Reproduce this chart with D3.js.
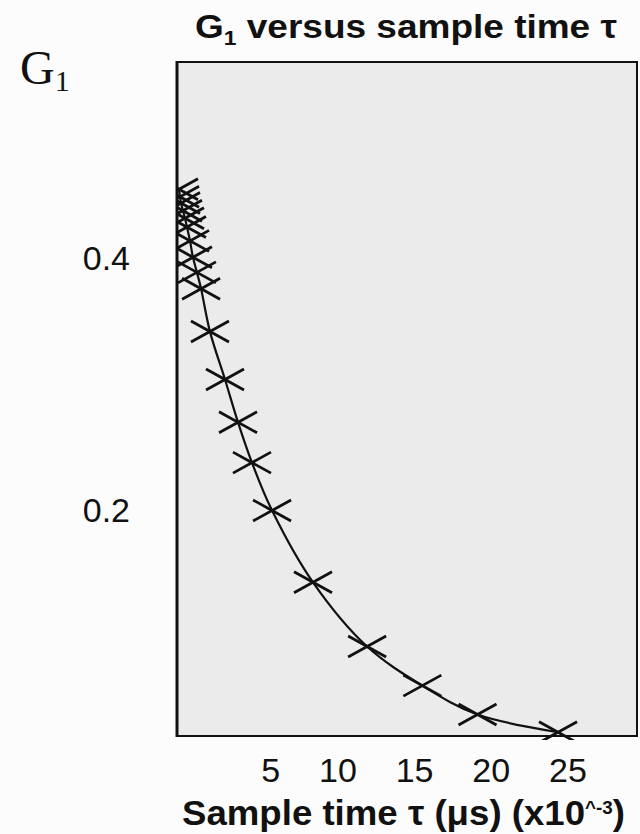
<!DOCTYPE html>
<html>
<head>
<meta charset="utf-8">
<script src="https://cdn.jsdelivr.net/npm/d3@7"></script>
<style>
  html, body { margin: 0; padding: 0; background: #fcfcfc; }
  svg { display: block; }
</style>
</head>
<body>
<script>
// Sample time τ (µs, ×10^-3) and the measured G1 at each sample
const tau = [0.13, 0.20, 0.26, 0.39, 0.52, 0.65, 0.85, 1.04, 1.30, 1.57,
             2.15, 3.13, 3.98, 4.89, 6.20, 8.87, 12.4, 16.0, 19.6, 24.85];
const g1 = [0.454, 0.448, 0.443, 0.437, 0.431, 0.424, 0.413, 0.400, 0.388, 0.375,
            0.341, 0.303, 0.269, 0.237, 0.199, 0.142, 0.091, 0.060, 0.037, 0.023];
const xTicks = [5, 10, 15, 20, 25];
const yTicks = [0.2, 0.4];

const W = 640, H = 834;
const plot = { left: 177, right: 637, top: 62, bottom: 736 };

const svg = d3.select("body").append("svg")
  .attr("width", W).attr("height", H);

const x = d3.scaleLinear().domain([0, 30]).range([plot.left, plot.right]);
const y = d3.scaleLinear().domain([0.02, 0.555]).range([plot.bottom, plot.top]);

svg.append("defs").append("clipPath").attr("id", "plot-clip")
  .append("rect")
  .attr("x", plot.left).attr("y", plot.top)
  .attr("width", plot.right - plot.left).attr("height", plot.bottom - plot.top + 4);

// plot area
svg.append("rect")
  .attr("x", plot.left).attr("y", plot.top)
  .attr("width", plot.right - plot.left).attr("height", plot.bottom - plot.top)
  .attr("fill", "#ebebeb").attr("stroke", "#111").attr("stroke-width", 2);

// axes: labels only, no tick marks
const tickFont = "Arial, 'Liberation Sans', sans-serif";
const xAxis = svg.append("g")
  .attr("transform", `translate(0,${plot.bottom})`)
  .call(d3.axisBottom(x).tickValues(xTicks).tickSize(0).tickPadding(0).tickFormat(d3.format("d")));
xAxis.select(".domain").remove();
xAxis.selectAll("text")
  .attr("text-anchor", "end")
  .attr("dx", 26)
  .attr("y", 46)
  .attr("dy", 0)
  .attr("fill", "#111")
  .style("font-family", tickFont)
  .style("font-size", "34px");

const yAxis = svg.append("g")
  .attr("transform", `translate(${plot.left},0)`)
  .call(d3.axisLeft(y).tickValues(yTicks).tickSize(0).tickPadding(0).tickFormat(d3.format(".1f")));
yAxis.select(".domain").remove();
yAxis.selectAll("text")
  .attr("x", -47)
  .attr("dy", "0.36em")
  .attr("fill", "#111")
  .style("font-family", tickFont)
  .style("font-size", "34px");

// fitted curve and markers, clipped to the frame
const pts = tau.map((t, i) => [t, g1[i]]);
const inner = svg.append("g").attr("clip-path", "url(#plot-clip)");

const line = d3.line()
  .x(d => x(d[0])).y(d => y(d[1]))
  .curve(d3.curveCatmullRom.alpha(0.5));
inner.append("path")
  .datum(pts)
  .attr("d", line)
  .attr("fill", "none")
  .attr("stroke", "#111")
  .attr("stroke-width", 2.2);

const mw = 19, mh = 10.5;
inner.append("g")
  .attr("stroke", "#111").attr("stroke-width", 2.8)
  .selectAll("path")
  .data(pts)
  .join("path")
  .attr("fill", "none")
  .attr("d", d => {
    const cx = x(d[0]), cy = y(d[1]);
    return `M${cx - mw},${cy - mh}L${cx + mw},${cy + mh}M${cx - mw},${cy + mh}L${cx + mw},${cy - mh}`;
  });

// heavier left edge of the frame
svg.append("line")
  .attr("x1", plot.left).attr("x2", plot.left)
  .attr("y1", plot.top - 1).attr("y2", plot.bottom + 1)
  .attr("stroke", "#111").attr("stroke-width", 3);

// title
const title = svg.append("text")
  .attr("x", 195).attr("y", 38)
  .attr("textLength", 422).attr("lengthAdjust", "spacingAndGlyphs")
  .attr("fill", "#111")
  .style("font-family", "Arial, 'Liberation Sans', sans-serif")
  .style("font-weight", "bold")
  .style("font-size", "34px");
title.append("tspan").text("G");
title.append("tspan").attr("dy", 7).style("font-size", "21px").text("1");
title.append("tspan").attr("dy", -7).text(" versus sample time τ");

// x-axis title
const xt = svg.append("text")
  .attr("x", 182).attr("y", 825)
  .attr("textLength", 443).attr("lengthAdjust", "spacingAndGlyphs")
  .attr("fill", "#111")
  .style("font-family", "Arial, 'Liberation Sans', sans-serif")
  .style("font-weight", "bold")
  .style("font-size", "35px");
xt.append("tspan").text("Sample time τ (μs) (x10");
xt.append("tspan").attr("dy", -11).style("font-size", "18px").text("^-3");
xt.append("tspan").attr("dy", 11).text(")");

// y-axis title
const yt = svg.append("text")
  .attr("x", 20).attr("y", 84)
  .attr("fill", "#111")
  .style("font-family", "'Times New Roman', 'Liberation Serif', serif")
  .style("font-size", "48px");
yt.append("tspan").text("G");
yt.append("tspan").attr("dy", 7).style("font-size", "30px").text("1");
</script>
</body>
</html>
